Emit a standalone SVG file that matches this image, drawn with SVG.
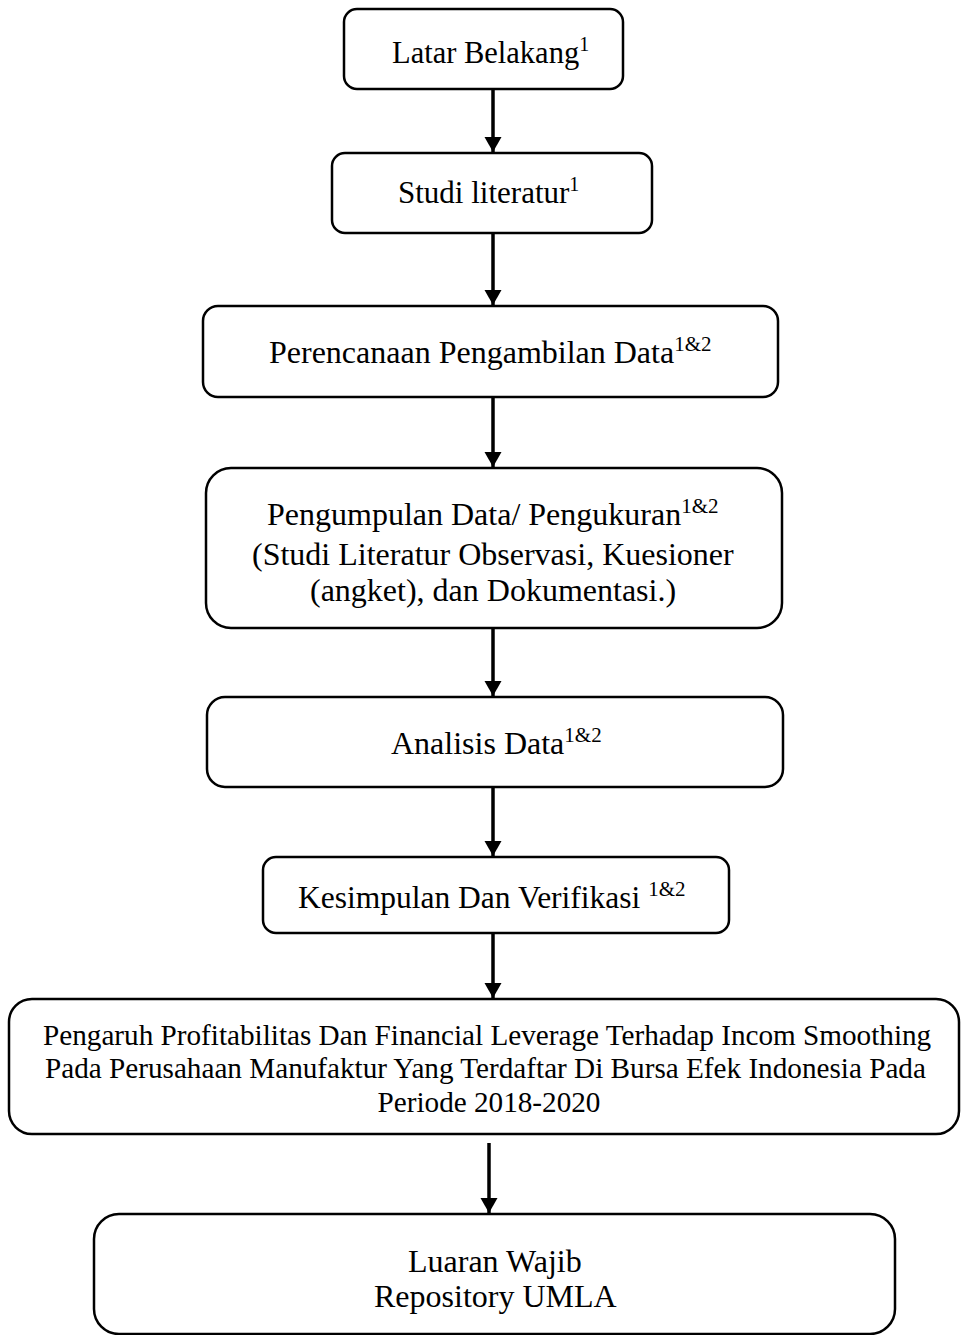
<svg xmlns="http://www.w3.org/2000/svg" width="961" height="1335" viewBox="0 0 961 1335">
  <defs>
    <marker id="ah" markerUnits="userSpaceOnUse" markerWidth="18" markerHeight="18" refX="15" refY="8.5" orient="auto">
      <path d="M0,0 L15,8.5 L0,17 z" fill="#000"/>
    </marker>
    <style>
      .box { fill: #fff; stroke: #000; stroke-width: 2.5; }
      .t { font-family: "Liberation Serif", "Times New Roman", serif; fill: #000; }
      .conn line { stroke: #000; stroke-width: 3.5; marker-end: url(#ah); }
    </style>
  </defs>
  <rect width="961" height="1335" fill="#fff"/>

  <g class="conn" id="connectors">
    <line x1="493" y1="90" x2="493" y2="152"/>
    <line x1="493" y1="234" x2="493" y2="305"/>
    <line x1="493" y1="398" x2="493" y2="467"/>
    <line x1="493" y1="629" x2="493" y2="696"/>
    <line x1="493" y1="788" x2="493" y2="856"/>
    <line x1="493" y1="934" x2="493" y2="998"/>
    <line x1="489" y1="1143" x2="489" y2="1213"/>
  </g>

  <g id="n1">
    <rect class="box" x="344" y="9" width="279" height="80" rx="13"/>
    <text class="t" x="392" y="63" font-size="30.5">Latar Belakang<tspan font-size="20" dy="-12">1</tspan></text>
  </g>
  <g id="n2">
    <rect class="box" x="332" y="153" width="320" height="80" rx="13"/>
    <text class="t" x="398" y="203" font-size="31">Studi literatur<tspan font-size="20" dy="-12">1</tspan></text>
  </g>
  <g id="n3">
    <rect class="box" x="203" y="306" width="575" height="91" rx="15"/>
    <text class="t" x="269" y="363" font-size="32">Perencanaan Pengambilan Data<tspan font-size="21" dy="-12">1&amp;2</tspan></text>
  </g>
  <g id="n4">
    <rect class="box" x="206" y="468" width="576" height="160" rx="25"/>
    <text class="t" x="267" y="525" font-size="32">Pengumpulan Data/ Pengukuran<tspan font-size="21" dy="-12">1&amp;2</tspan></text>
    <text class="t" x="252" y="565" font-size="32">(Studi Literatur Observasi, Kuesioner</text>
    <text class="t" x="310" y="601" font-size="32">(angket), dan Dokumentasi.)</text>
  </g>
  <g id="n5">
    <rect class="box" x="207" y="697" width="576" height="90" rx="18"/>
    <text class="t" x="391" y="754" font-size="32">Analisis Data<tspan font-size="21" dy="-12">1&amp;2</tspan></text>
  </g>
  <g id="n6">
    <rect class="box" x="263" y="857" width="466" height="76" rx="13"/>
    <text class="t" x="298" y="908" font-size="31.5">Kesimpulan Dan Verifikasi <tspan font-size="21" dy="-12">1&amp;2</tspan></text>
  </g>
  <g id="n7">
    <rect class="box" x="9" y="999" width="950" height="135" rx="23"/>
    <text class="t" x="43" y="1045" font-size="29.2">Pengaruh Profitabilitas Dan Financial Leverage Terhadap Incom Smoothing</text>
    <text class="t" x="45" y="1078" font-size="29.2">Pada Perusahaan Manufaktur Yang Terdaftar Di Bursa Efek Indonesia Pada</text>
    <text class="t" x="489" y="1112" font-size="29.2" text-anchor="middle">Periode 2018-2020</text>
  </g>
  <g id="n8">
    <rect class="box" x="94" y="1214" width="801" height="120" rx="25"/>
    <text class="t" x="408" y="1272" font-size="32">Luaran Wajib</text>
    <text class="t" x="374" y="1307" font-size="32">Repository UMLA</text>
  </g>
</svg>
